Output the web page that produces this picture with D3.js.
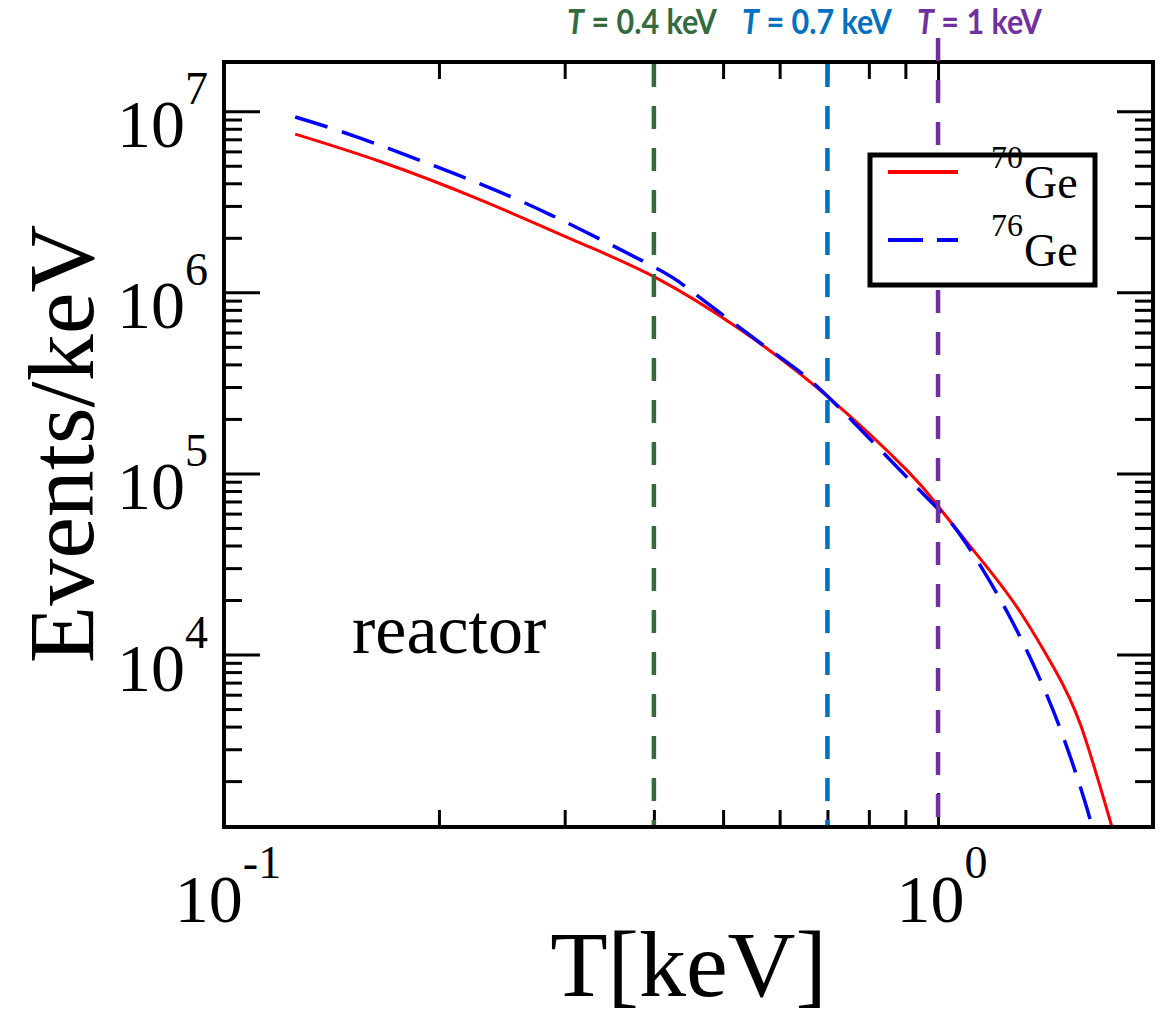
<!DOCTYPE html>
<html>
<head>
<meta charset="utf-8">
<script src="https://cdn.jsdelivr.net/npm/d3@7/dist/d3.min.js"></script>
<style>
body{margin:0;background:#fff;}
</style>
</head>
<body>
<div id="canvas"></div>
<script>
//    data
var energy70 = [0.1258,0.1655,0.2286,0.3157,0.4036,0.529,0.705,0.907,1.01,1.174,1.307,1.454,1.587,1.76];
var events70 = [7.48e6,5.28e6,3.24e6,1.87e6,1.198e6,6.21e5,2.60e5,1.03e5,6.28e4,3.0e4,1.69e4,8.4e3,3.99e3,1.05e3];
var energy76 = [0.1258,0.1551,0.212,0.2866,0.399,0.4547,0.5888,0.705,0.9365,1.053,1.149,1.2525,1.363,1.487,1.602,1.65];
var events76 = [9.29e6,7.11e6,4.46e6,2.68e6,1.389e6,9.94e5,4.64e5,2.60e5,8.28e4,5.08e4,3.05e4,1.69e4,8.63e3,3.78e3,1.59e3,1.05e3];

var seriesNames = ['70','76'];
var seriesColors = ['#ff0000','#0000ff'];

var markValues = [0.4,0.7,1];
var markTexts = ['0.4 keV','0.7 keV','1 keV'];
var markColors = ['#336b3f','#0070c0','#7030a0'];

var xMajor = [0.1,1];
var xExp = ['-1','0'];
var yMajor = [1e4,1e5,1e6,1e7];
var yExp = ['4','5','6','7'];

(function(){
//    layout
var W = 1161, H = 1024;
var pL = 224, pR = 1153, pT = 62, pB = 827;
var serif = '"Liberation Serif","Times New Roman",serif';

var x = d3.scaleLog().domain([0.1,2]).range([pL,pR]);
var y = d3.scaleLog().domain([1116,1.87e7]).range([pB,pT]);

var svg = d3.select('#canvas')
    .append('svg')
    .attr('width',W)
    .attr('height',H)

svg.append('defs').append('clipPath')
    .attr('id','plot')
    .append('rect')
    .attr('x',pL).attr('y',pT)
    .attr('width',pR-pL).attr('height',pB-pT)

//    ticks
var xMinor = x.ticks().filter(function(d){ return xMajor.indexOf(d) < 0; });
var yMinor = y.ticks().filter(function(d){ return yMajor.indexOf(d) < 0; });

function tickGroup(axis, tx, ty, vals, size){
    var g = svg.append('g')
        .attr('transform','translate('+tx+','+ty+')')
        .call(axis.tickValues(vals).tickSize(size).tickSizeOuter(0).tickFormat(''));
    g.select('.domain').remove();
    g.selectAll('line').attr('stroke','#000').attr('stroke-width',3);
}
tickGroup(d3.axisLeft(y),pL,0,yMajor,-36);
tickGroup(d3.axisLeft(y),pL,0,yMinor,-18);
tickGroup(d3.axisRight(y),pR,0,yMajor,-36);
tickGroup(d3.axisRight(y),pR,0,yMinor,-18);
tickGroup(d3.axisBottom(x),0,pB,xMajor,-34);
tickGroup(d3.axisBottom(x),0,pB,xMinor,-17);
tickGroup(d3.axisTop(x),0,pT,xMajor,-34);
tickGroup(d3.axisTop(x),0,pT,xMinor,-17);

//    curves
var line = d3.line()
    .x(function(d){ return x(d[0]); })
    .y(function(d){ return y(d[1]); })
    .curve(d3.curveNatural);

var curves = svg.append('g').attr('clip-path','url(#plot)');
curves.append('path')
    .datum(d3.zip(energy70,events70))
    .attr('d',line)
    .attr('fill','none')
    .attr('stroke',seriesColors[0])
    .attr('stroke-width',3)
curves.append('path')
    .datum(d3.zip(energy76,events76))
    .attr('d',line)
    .attr('fill','none')
    .attr('stroke',seriesColors[1])
    .attr('stroke-width',3.5)
    .attr('stroke-dasharray','34,15')

//    frame
svg.append('rect')
    .attr('x',pL).attr('y',pT)
    .attr('width',pR-pL).attr('height',pB-pT)
    .attr('fill','none')
    .attr('stroke','#000')
    .attr('stroke-width',4)

//    marker lines
svg.selectAll('.mark')
    .data(markValues)
    .enter()
    .append('line')
    .attr('class','mark')
    .attr('x1',function(d){ return x(d); })
    .attr('x2',function(d){ return x(d); })
    .attr('y1',function(d,i){ return i == 2 ? 38 : pT+2; })
    .attr('y2',pB-2)
    .attr('stroke',function(d,i){ return markColors[i]; })
    .attr('stroke-width',4.5)
    .attr('stroke-dasharray','23,19')

//    marker labels
var labelX = [567,742,917];
var labelW = [150,150,125];
var mt = svg.selectAll('.marktext')
    .data(markTexts)
    .enter()
    .append('text')
    .attr('class','marktext')
    .attr('x',function(d,i){ return labelX[i]; })
    .attr('y',34)
    .attr('textLength',function(d,i){ return labelW[i]; })
    .attr('lengthAdjust','spacingAndGlyphs')
    .attr('fill',function(d,i){ return markColors[i]; })
    .style('font-family','Lato,"Open Sans",sans-serif')
    .style('font-weight','bold')
    .style('font-size','34px')
mt.append('tspan').style('font-style','italic').text('T');
mt.append('tspan').text(function(d){ return ' = ' + d; });

//    legend
svg.append('rect')
    .attr('x',870).attr('y',155)
    .attr('width',225).attr('height',130)
    .attr('fill','#fff')
    .attr('stroke','#000')
    .attr('stroke-width',5)

seriesNames.forEach(function(n,i){
    var ly = 172 + i*68;
    svg.append('line')
        .attr('x1',888).attr('x2',958)
        .attr('y1',ly).attr('y2',ly)
        .attr('stroke',seriesColors[i])
        .attr('stroke-width',4)
        .attr('stroke-dasharray', i == 1 ? '35,14' : null)
    svg.append('text')
        .attr('x',991).attr('y',ly-4)
        .style('font-family',serif)
        .style('font-size','32px')
        .text(n)
    svg.append('text')
        .attr('x',1024).attr('y',ly+26)
        .style('font-family',serif)
        .style('font-size','46px')
        .text('Ge')
})

//    tick labels
var yl = svg.selectAll('.ylab')
    .data(yMajor)
    .enter()
    .append('text')
    .attr('class','ylab')
    .attr('x',208)
    .attr('y',function(d){ return y(d)+36; })
    .attr('text-anchor','end')
    .style('font-family',serif)
    .style('font-size','68px')
yl.append('tspan').text('10');
yl.append('tspan')
    .attr('dy',-43)
    .style('font-size','46px')
    .text(function(d,i){ return yExp[i]; });

var xl = svg.selectAll('.xlab')
    .data(xMajor)
    .enter()
    .append('text')
    .attr('class','xlab')
    .attr('x',function(d){ return x(d)+4; })
    .attr('y',922)
    .attr('text-anchor','middle')
    .style('font-family',serif)
    .style('font-size','68px')
xl.append('tspan').text('10');
xl.append('tspan')
    .attr('dy',-44)
    .style('font-size','46px')
    .text(function(d,i){ return xExp[i]; });

//    axis titles
svg.append('text')
    .attr('transform','translate(93,444) rotate(-90)')
    .attr('text-anchor','middle')
    .style('font-family',serif)
    .style('font-size','94px')
    .text('Events/keV')

svg.append('text')
    .attr('x',(pL+pR)/2)
    .attr('y',996)
    .attr('text-anchor','middle')
    .style('font-family',serif)
    .style('font-size','94px')
    .text('T[keV]')

svg.append('text')
    .attr('x',352)
    .attr('y',653)
    .style('font-family',serif)
    .style('font-size','70px')
    .text('reactor')
})();
</script>
</body>
</html>
